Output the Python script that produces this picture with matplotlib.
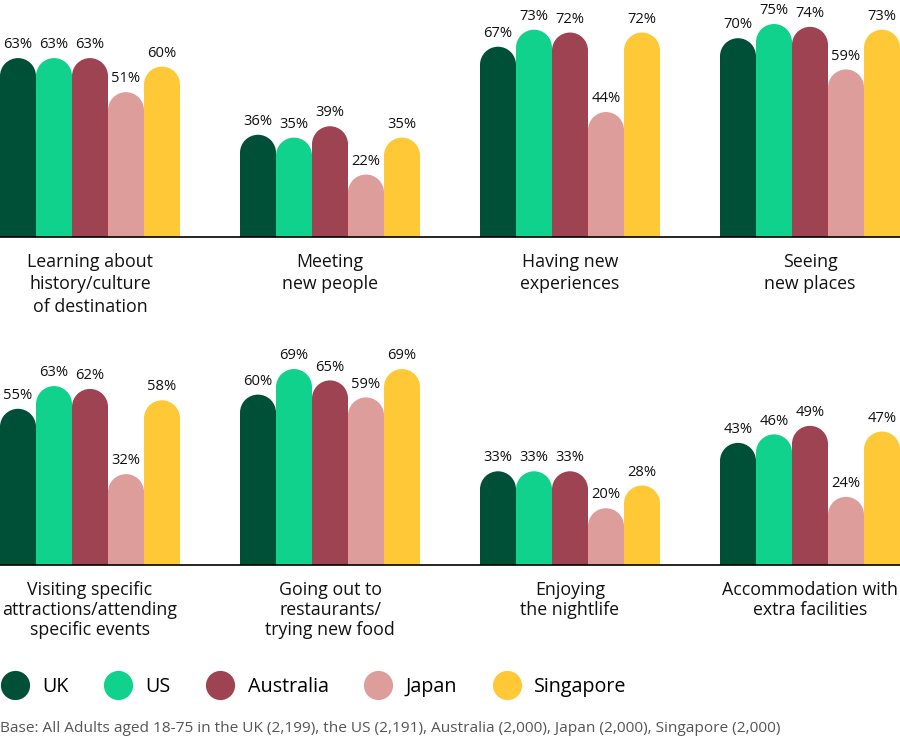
import matplotlib
matplotlib.use("Agg")
import matplotlib.pyplot as plt
from matplotlib.patches import Ellipse
from matplotlib.lines import Line2D

plt.rcParams['font.family'] = ['Open Sans', 'DejaVu Sans']

countries = ["UK", "US", "Australia", "Japan", "Singapore"]
colors = ["#005037", "#11D28C", "#9D4351", "#DD9D9B", "#FFC837"]

categories_row1 = ["Learning about\nhistory/culture\nof destination",
                   "Meeting\nnew people",
                   "Having new\nexperiences",
                   "Seeing\nnew places"]
values_row1 = [[63, 63, 63, 51, 60],
               [36, 35, 39, 22, 35],
               [67, 73, 72, 44, 72],
               [70, 75, 74, 59, 73]]

categories_row2 = ["Visiting specific\nattractions/attending\nspecific events",
                   "Going out to\nrestaurants/\ntrying new food",
                   "Enjoying\nthe nightlife",
                   "Accommodation with\nextra facilities"]
values_row2 = [[55, 63, 62, 32, 58],
               [60, 69, 65, 59, 69],
               [33, 33, 33, 20, 28],
               [43, 46, 49, 24, 47]]

footnote = ("Base: All Adults aged 18-75 in the UK (2,199), the US (2,191), "
            "Australia (2,000), Japan (2,000), Singapore (2,000)")

W, H = 900, 740
fig = plt.figure(figsize=(W / 100, H / 100), dpi=100)

px_per_pct = 2.84
bar_px = 36.0
panel_units = 240.0 / bar_px
ax_h_px = 237.0


def draw_row(baseline_px, cats, vals, linesp, off):
    ax = fig.add_axes([0, (H - baseline_px) / H, 1, ax_h_px / H])
    ax.set_xlim(0, W / bar_px)
    ax.set_ylim(0, ax_h_px / px_per_pct)
    ax.axis('off')
    r_y = (bar_px / 2) / px_per_pct
    for p, (cat, vs) in enumerate(zip(cats, vals)):
        start = p * panel_units
        for j, v in enumerate(vs):
            xc = start + j + 0.5
            ax.bar(xc, v - r_y, width=1.0, bottom=0, color=colors[j],
                   edgecolor='none', linewidth=0)
            ax.add_patch(Ellipse((xc, v - r_y), 1.0, 2 * r_y,
                                 facecolor=colors[j], edgecolor='none'))
            ax.annotate(f"{v}%", (xc, v), xytext=(0, 9.6),
                        textcoords='offset points', ha='center', va='center',
                        fontsize=10.6, color='#111111', annotation_clip=False)
        ax.annotate(cat, (start + len(vs) / 2, 0), xytext=(0, off),
                    textcoords='offset points', ha='center', va='top',
                    fontsize=12.8, color='#111111', linespacing=linesp,
                    annotation_clip=False)
    ax.axhline(0, color='black', lw=1.2, clip_on=False)
    return ax


draw_row(237, categories_row1, values_row1, 1.32, -11.5)
draw_row(565, categories_row2, values_row2, 1.13, -11.5)

handles = [Line2D([], [], marker='o', linestyle='none', markersize=21,
                  markerfacecolor=c, markeredgecolor='none') for c in colors]
fig.legend(handles, countries, loc='center left',
           bbox_to_anchor=(0, 1 - 687 / H), ncol=5, frameon=False,
           fontsize=14.2, handlelength=1.5, handletextpad=0.65,
           columnspacing=1.75, borderpad=0, borderaxespad=0)

fig.text(0, 1 - 729 / H, footnote, ha='left', va='center', fontsize=11.1,
         color='#555555')

fig.savefig("out.png", dpi=100)
